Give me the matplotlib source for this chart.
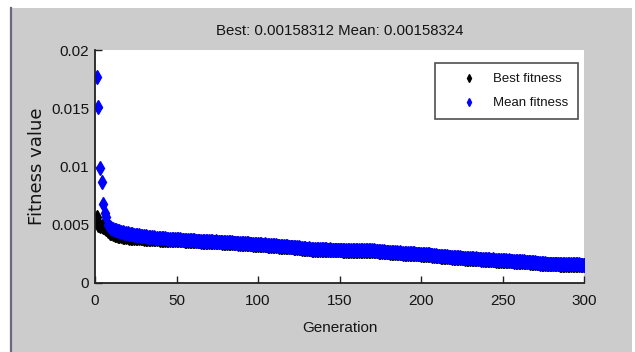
import numpy as np
import matplotlib
matplotlib.use("Agg")
import matplotlib.pyplot as plt
from matplotlib.patches import Rectangle
from matplotlib.lines import Line2D

generations = np.arange(1, 301)

mean_fitness = [
    0.01770, 0.01510, 0.00990, 0.00870, 0.00680, 0.00600, 0.00570, 0.00500, 0.00480, 0.00470,
    0.00462, 0.00456, 0.00451, 0.00447, 0.00443, 0.00440, 0.00436, 0.00433, 0.00430, 0.00427,
    0.00424, 0.00421, 0.00419, 0.00416, 0.00414, 0.00411, 0.00409, 0.00406, 0.00404, 0.00402,
    0.00400, 0.00398, 0.00396, 0.00394, 0.00392, 0.00391, 0.00389, 0.00388, 0.00386, 0.00385,
    0.00384, 0.00383, 0.00382, 0.00381, 0.00380, 0.00379, 0.00378, 0.00377, 0.00376, 0.00375,
    0.00374, 0.00375, 0.00372, 0.00371, 0.00372, 0.00369, 0.00368, 0.00369, 0.00366, 0.00365,
    0.00366, 0.00364, 0.00363, 0.00364, 0.00362, 0.00361, 0.00362, 0.00360, 0.00359, 0.00358,
    0.00359, 0.00357, 0.00356, 0.00357, 0.00355, 0.00354, 0.00355, 0.00352, 0.00351, 0.00350,
    0.00351, 0.00349, 0.00348, 0.00349, 0.00347, 0.00346, 0.00345, 0.00346, 0.00343, 0.00342,
    0.00343, 0.00341, 0.00340, 0.00341, 0.00338, 0.00337, 0.00338, 0.00335, 0.00334, 0.00333,
    0.00334, 0.00331, 0.00330, 0.00331, 0.00328, 0.00327, 0.00328, 0.00325, 0.00323, 0.00322,
    0.00323, 0.00320, 0.00319, 0.00320, 0.00317, 0.00316, 0.00317, 0.00314, 0.00313, 0.00312,
    0.00313, 0.00310, 0.00308, 0.00309, 0.00305, 0.00303, 0.00304, 0.00300, 0.00298, 0.00296,
    0.00297, 0.00294, 0.00293, 0.00294, 0.00292, 0.00291, 0.00292, 0.00290, 0.00289, 0.00288,
    0.00289, 0.00288, 0.00287, 0.00288, 0.00286, 0.00286, 0.00287, 0.00285, 0.00285, 0.00285,
    0.00286, 0.00284, 0.00284, 0.00285, 0.00283, 0.00283, 0.00284, 0.00283, 0.00282, 0.00283,
    0.00282, 0.00282, 0.00283, 0.00281, 0.00281, 0.00282, 0.00280, 0.00281, 0.00280, 0.00279,
    0.00280, 0.00278, 0.00276, 0.00277, 0.00273, 0.00271, 0.00272, 0.00269, 0.00268, 0.00268,
    0.00267, 0.00265, 0.00264, 0.00265, 0.00262, 0.00261, 0.00262, 0.00259, 0.00258, 0.00258,
    0.00257, 0.00256, 0.00257, 0.00255, 0.00254, 0.00255, 0.00253, 0.00252, 0.00251, 0.00250,
    0.00251, 0.00249, 0.00248, 0.00249, 0.00246, 0.00244, 0.00243, 0.00240, 0.00238, 0.00236,
    0.00235, 0.00233, 0.00232, 0.00233, 0.00230, 0.00228, 0.00227, 0.00226, 0.00224, 0.00222,
    0.00223, 0.00221, 0.00220, 0.00221, 0.00218, 0.00217, 0.00216, 0.00215, 0.00213, 0.00212,
    0.00213, 0.00211, 0.00210, 0.00211, 0.00208, 0.00207, 0.00208, 0.00205, 0.00204, 0.00203,
    0.00204, 0.00202, 0.00201, 0.00202, 0.00199, 0.00198, 0.00199, 0.00196, 0.00195, 0.00195,
    0.00196, 0.00194, 0.00193, 0.00194, 0.00191, 0.00190, 0.00191, 0.00189, 0.00188, 0.00187,
    0.00188, 0.00186, 0.00185, 0.00184, 0.00182, 0.00181, 0.00180, 0.00178, 0.00177, 0.00176,
    0.00175, 0.00173, 0.00172, 0.00170, 0.00169, 0.00168, 0.00167, 0.00166, 0.00165, 0.00165,
    0.00164, 0.00164, 0.00163, 0.00163, 0.00162, 0.00162, 0.00162, 0.00161, 0.00161, 0.00161,
    0.00160, 0.00160, 0.00160, 0.00159, 0.00159, 0.00159, 0.00159, 0.00158, 0.00158, 0.00158324,
]

best_fitness = [
    0.00570, 0.00500, 0.00492, 0.00488, 0.00482, 0.00475, 0.00462, 0.00445, 0.00432, 0.00425,
    0.00420, 0.00415, 0.00410, 0.00406, 0.00403, 0.00400, 0.00398, 0.00396, 0.00394, 0.00392,
    0.00390, 0.00389, 0.00388, 0.00387, 0.00386, 0.00385, 0.00384, 0.00383, 0.00382, 0.00381,
    0.00380, 0.00379, 0.00378, 0.00377, 0.00376, 0.00375, 0.00375, 0.00374, 0.00374, 0.00373,
    0.00372, 0.00372, 0.00371, 0.00371, 0.00370, 0.00370, 0.00369, 0.00369, 0.00368, 0.00368,
    0.00367, 0.00366, 0.00366, 0.00365, 0.00364, 0.00363, 0.00363, 0.00362, 0.00361, 0.00360,
    0.00359, 0.00358, 0.00358, 0.00357, 0.00356, 0.00356, 0.00355, 0.00355, 0.00354, 0.00353,
    0.00353, 0.00352, 0.00351, 0.00350, 0.00350, 0.00349, 0.00348, 0.00347, 0.00346, 0.00345,
    0.00345, 0.00344, 0.00343, 0.00342, 0.00341, 0.00340, 0.00340, 0.00339, 0.00338, 0.00337,
    0.00336, 0.00335, 0.00334, 0.00333, 0.00332, 0.00331, 0.00330, 0.00329, 0.00328, 0.00327,
    0.00326, 0.00325, 0.00324, 0.00323, 0.00322, 0.00321, 0.00320, 0.00319, 0.00317, 0.00316,
    0.00315, 0.00314, 0.00313, 0.00312, 0.00311, 0.00310, 0.00309, 0.00308, 0.00307, 0.00306,
    0.00305, 0.00303, 0.00301, 0.00300, 0.00298, 0.00297, 0.00296, 0.00294, 0.00292, 0.00290,
    0.00289, 0.00288, 0.00287, 0.00286, 0.00285, 0.00285, 0.00284, 0.00284, 0.00283, 0.00283,
    0.00282, 0.00282, 0.00281, 0.00281, 0.00280, 0.00280, 0.00280, 0.00279, 0.00279, 0.00279,
    0.00279, 0.00278, 0.00278, 0.00278, 0.00278, 0.00277, 0.00277, 0.00277, 0.00277, 0.00276,
    0.00276, 0.00276, 0.00276, 0.00275, 0.00275, 0.00275, 0.00274, 0.00274, 0.00274, 0.00273,
    0.00273, 0.00272, 0.00271, 0.00270, 0.00268, 0.00266, 0.00265, 0.00264, 0.00263, 0.00262,
    0.00261, 0.00260, 0.00259, 0.00258, 0.00257, 0.00256, 0.00255, 0.00254, 0.00253, 0.00252,
    0.00251, 0.00251, 0.00250, 0.00250, 0.00249, 0.00248, 0.00247, 0.00246, 0.00245, 0.00244,
    0.00244, 0.00243, 0.00242, 0.00241, 0.00240, 0.00238, 0.00236, 0.00234, 0.00232, 0.00230,
    0.00229, 0.00227, 0.00226, 0.00225, 0.00223, 0.00222, 0.00221, 0.00220, 0.00218, 0.00216,
    0.00216, 0.00215, 0.00214, 0.00213, 0.00212, 0.00211, 0.00210, 0.00209, 0.00208, 0.00207,
    0.00206, 0.00205, 0.00204, 0.00204, 0.00203, 0.00202, 0.00201, 0.00200, 0.00199, 0.00198,
    0.00197, 0.00196, 0.00196, 0.00195, 0.00194, 0.00193, 0.00192, 0.00191, 0.00190, 0.00190,
    0.00189, 0.00189, 0.00188, 0.00187, 0.00186, 0.00185, 0.00184, 0.00183, 0.00183, 0.00182,
    0.00181, 0.00180, 0.00179, 0.00178, 0.00177, 0.00176, 0.00175, 0.00173, 0.00172, 0.00171,
    0.00170, 0.00168, 0.00167, 0.00165, 0.00164, 0.00163, 0.00162, 0.00161, 0.00160, 0.00160,
    0.00159, 0.00159, 0.00159, 0.00159, 0.00158312, 0.00158312, 0.00158312, 0.00158312, 0.00158312, 0.00158312,
    0.00158312, 0.00158312, 0.00158312, 0.00158312, 0.00158312, 0.00158312, 0.00158312, 0.00158312, 0.00158312, 0.00158312,
]

x_ticks = [0, 50, 100, 150, 200, 250, 300]
y_ticks = [0, 0.005, 0.01, 0.015, 0.02]
y_tick_labels = ["0", "0.005", "0.01", "0.015", "0.02"]
title_text = "Best: 0.00158312 Mean: 0.00158324"
legend_labels = ["Best fitness", "Mean fitness"]

W, H = 635, 352
sans = ["Liberation Sans", "DejaVu Sans"]
txt_color = "#141414"
fs = 11

fig = plt.figure(figsize=(W / 100, H / 100), dpi=100, facecolor="white")

# gray MATLAB-like figure panel
fig.patches.append(Rectangle((10 / W, 0), 622 / W, (H - 8) / H, transform=fig.transFigure,
                             facecolor="#cccccc", edgecolor="none", zorder=-10))
fig.lines.append(Line2D([10.5 / W, 10.5 / W], [0, (H - 8) / H], transform=fig.transFigure,
                        color="#6c6680", linewidth=1.6, zorder=-9))

ax_l, ax_r, ax_t, ax_b = 95, 584, 50, 283
ax = fig.add_axes([ax_l / W, (H - ax_b) / H, (ax_r - ax_l) / W, (ax_b - ax_t) / H])
ax.set_zorder(1)
ax.set_facecolor("white")

ax.plot(generations, best_fitness, linestyle="none", marker="d", markersize=6.8,
        color="black", label=legend_labels[0])
ax.plot(generations, mean_fitness, linestyle="none", marker="d", markersize=6.8,
        color="blue", label=legend_labels[1])

ax.set_xlim(0, 300)
ax.set_ylim(0, 0.02)
ax.set_xticks(x_ticks)
ax.set_yticks(y_ticks)
ax.set_yticklabels(y_tick_labels)
for s in ["top", "right"]:
    ax.spines[s].set_visible(False)
for s in ["left", "bottom"]:
    ax.spines[s].set_color("#222222")
    ax.spines[s].set_linewidth(1.3)
ax.tick_params(direction="in", length=5, width=1, color="#222222",
               labelcolor=txt_color, labelsize=fs)
ax.tick_params(axis="x", pad=8)
ax.tick_params(axis="y", pad=4.3)
for lab in ax.get_xticklabels() + ax.get_yticklabels():
    lab.set_family(sans)

ax.set_xlabel("Generation", family=sans, fontsize=fs, color=txt_color)
ax.xaxis.set_label_coords(0.5, -0.165)
ax.set_ylabel("Fitness value", family=["DejaVu Sans"], fontsize=13, color=txt_color)
ax.yaxis.set_label_coords(-0.100, 0.50)

ax.set_title(title_text, family=sans, fontsize=10.8, color=txt_color, y=1.064, pad=0)

leg = ax.legend(loc="upper right", bbox_to_anchor=((578 - ax_l) / (ax_r - ax_l), (ax_b - 63) / (ax_b - ax_t)),
                frameon=True, fancybox=False, shadow=False, borderpad=0.76,
                handlelength=3.64, handletextpad=0.0, labelspacing=0.9,
                borderaxespad=0, prop={"family": sans, "size": 9.5}, markerscale=0.62)
leg.get_frame().set_edgecolor("#222222")
leg.get_frame().set_linewidth(1.2)
for t in leg.get_texts():
    t.set_color(txt_color)

fig.savefig("out.png", dpi=100, facecolor=fig.get_facecolor())
